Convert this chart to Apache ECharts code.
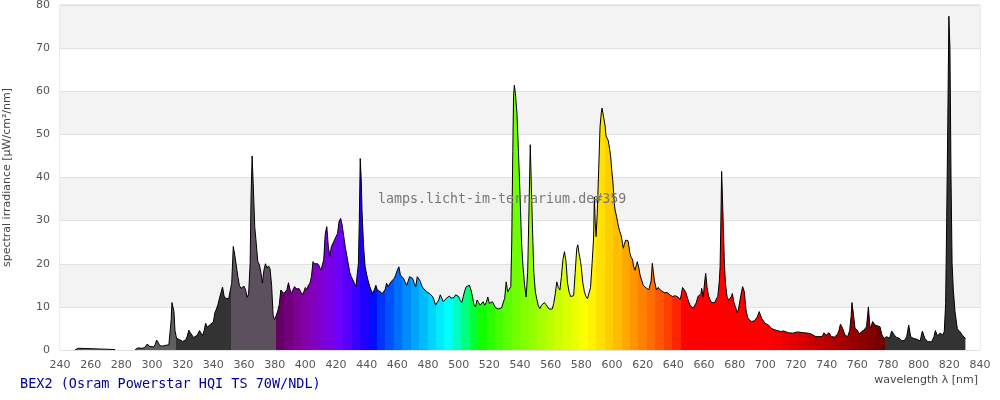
<!DOCTYPE html>
<html>
<head>
<meta charset="utf-8">
<script src="https://cdn.jsdelivr.net/npm/echarts@6/dist/echarts.min.js"></script>
<style>html,body{margin:0;padding:0;background:#fff}#c{width:1000px;height:400px}</style>
</head>
<body>
<div id="c"></div>
<script>
// wavelength [nm]
const wavelengths = [250,251,252,253,276,277,289,290,291,292,293,295,296,297,298,299,301,302,303,304,305,307,309,311,312,312.5,313,313.7,314.3,315,316,317,318,319,320,321,322,323,324,325,326,327,328,329,330,331,332,333,334,335,336,337,338,339,340,341,342,343,344,345,346,347,348,349,350,351,352,353,354,355,356,357,358,359,360,361,362,363,364,364.6,365.3,366,367,368,369,370,371,372,373,374,375,376,377,378,379,380,381,382,383,384,385,386,387,388,389,390,391,392,393,394,395,396,397,398,399,400,401,402,403,404,405,406,407,408,409,410,411,412,413,414,415,416,417,418,419,420,421,422,423,424,425,426,427,428,429,430,431,432,433,434,434.6,435.2,435.8,436.4,437,438,439,440,441,442,443,444,445,446,447,448,449,450,451,452,453,454,455,456,457,458,459,460,461,462,463,464,465,466,467,468,469,470,471,472,473,474,475,476,477,478,479,480,481,482,483,484,485,486,487,488,489,490,491,492,493,494,495,496,497,498,499,500,501,502,503,504,505,506,507,508,509,510,511,512,513,514,515,516,517,518,519,520,521,522,523,524,525,526,527,528,529,530,531,532,533,534,534.6,535.3,535.8,536.3,537,538,539,540,541,542,543,544,545,546,546.7,547.3,548,549,550,551,552,553,554,555,556,557,558,559,560,561,562,563,564,565,566,567,568,569,570,571,572,573,574,575,576,577,577.7,578.5,579.5,580,581,582,583,584,585,586,587,588,588.5,589,589.6,590.4,591.3,592.2,593,593.5,594.2,594.8,595.5,596.1,597,597.6,598.5,599.1,600,600.5,601.5,602,603,604,604.8,606,606.3,607.4,608,609,610,610.5,611.7,612.5,613.5,614,615,616,616.5,617.5,618.3,619.5,620.4,621.5,622.6,624,624.8,625.5,626.3,627,627.6,629,630,631,632,633,634,635,636,637,638,639.6,641,642.2,643,644.3,645,646,647,648,649,650,651,652,653,654,655,656,657,658,658.5,659.5,660.5,661.1,662,663,664,665,666,667,668,669,670,670.5,671,671.5,672,672.6,673.3,674,675,676,677,678,678.5,679.5,680.5,681.7,682.5,683.5,684.5,685.2,686.3,687.4,688.5,689.5,691,693,694.8,696,697.6,699.8,702,704,706,708,710,712,713,715,718,721,722,725,728,730,731,733,737,738.3,739.6,741.5,743,745,747,748,749,750.4,751.9,753.7,755,756,756.5,757.4,758.5,760,761.3,762.8,764.3,766,766.7,767.2,768.3,769,770,771,771.5,773,774.8,776,777.6,779,781,782.4,784,785.7,787.4,789,791,792.2,793.5,794.8,796.5,798.7,801,802.4,804,806,808.5,810,810.9,812.2,814,815.7,816.7,817.6,818.3,819,819.7,820.4,821.1,821.8,822.6,823.7,825.2,827,829,830.5];
// spectral irradiance [µW/cm²/nm]
const irradiance = [0.1,0.1,0.4,0.1,0.1,null,0.1,0.2,0.5,0.8,0.4,0.5,0.9,1.4,0.9,0.6,0.7,1.2,2.3,1.8,1.0,0.9,1.1,1.2,1.5,7,11,11.2,9,4.5,2.7,2.3,2.4,2.2,2.0,2.1,2.3,3.2,4.6,4.0,3.5,2.9,3.0,3.3,3.8,4.5,3.9,3.4,4.5,6.2,5.3,5.6,5.9,6.0,6.5,8.6,9.5,10.5,12.0,12.4,14.6,12.5,12.0,12.3,11.9,12.2,15.5,24.0,22.0,19.5,17.0,15.0,14.3,14.5,14.8,14.0,12.2,13.0,20,35.6,45,38.6,28.6,24.7,20.5,19.8,18,15.5,18.5,20,19,19.5,18.8,15,8,7.0,7.3,9,10.5,13.9,13.5,13.1,12.8,14,15.6,14,13.1,14,14.7,14.2,14.6,14.2,13.9,12.8,13.5,14.5,14,15,15.5,17,20.5,20,19.7,20,19.5,18.5,19.5,21,27,28.6,24,21.7,24,24,25.5,26.3,27,29.8,30.5,29,26.5,24,22,20,18,17,16.6,15.5,14.7,15,20,30,44.4,40,32,24,19.3,17.5,16,14.7,13.8,13.1,14,15,13.9,13.7,13.5,13,12.8,14,15.5,14.7,15,15.9,16.3,16.6,17.5,18.5,19.3,17.4,17,16.6,15.8,15,15.9,17,16.8,16.6,15.5,14.7,17,16.5,15.9,14.8,14.3,14.7,13.5,13.3,13.1,12.8,12.4,11.5,10.4,11,11.6,12.8,12,11.2,11.5,12,12.3,12.5,12,11.6,12.2,12.8,12.6,12.4,11.5,11,12.4,13.8,14.7,15,15,14,12.4,10.5,10,11.6,11,10.4,10.8,11.2,10.4,11,12.3,10.8,10.4,11.2,10.5,9.8,9.4,9.5,9.7,9.8,9.9,12,15.8,13.5,13.1,14.7,24.8,46,58.7,61.4,59.5,55,46,36,25,19,15,12.3,18,35,47.6,39.4,30,18,13.5,11.7,10.2,9.6,10.4,10.6,11,10.5,10,9.5,9.1,9.5,10.8,13,15.8,14.5,13.9,17,21,22.8,20.5,15.5,13.5,12.4,12.2,12.6,18,23.5,24.4,22.4,20.5,19,15.5,13.5,12.4,11.9,11.8,14.5,20,26,35.5,30,26.3,31.7,41.8,51.8,55,56.1,56.3,55.7,52,49.6,49,48.5,46.5,45,41,39.4,34,32.5,30.9,29,27.8,26.5,26.3,23.6,24.5,25.5,25.8,25.3,22.4,21.5,20.9,19.5,18.5,19.8,20.5,19,17.4,16,15,14.6,14.3,14,14,16,20.1,18,16.2,13.9,14.5,14.7,13.8,13.5,13.3,13.1,13.3,13,12.7,12.4,12.6,12.8,12.3,11.7,12.5,14.5,14.5,13.5,12.3,11.2,10.3,9.9,9.7,9.6,11,12.4,12.2,13,14.3,12.2,16,17.8,14.5,12.5,11.6,11,10.6,11,11.8,12.4,16,19.3,30,41.4,36,28.6,20,15.5,12.4,11.5,11.2,12.5,13.1,11,10,8.7,9.5,11.6,13.5,14.7,13.5,9.3,7.5,7,6.6,6.8,7.7,8.9,7.3,6.2,5.8,5,4.7,4.5,4.3,4.4,4.5,4.0,3.9,4.2,4.0,4.0,3.9,3.7,3.5,3.1,3.1,4,3.4,4,3.1,3.0,3.6,4.5,6,5,3.5,3.1,4.5,8,11,8.5,5,4.6,3.7,4.3,4.6,5.4,8,10,5,5.5,6.6,6.2,5.8,5.6,5.4,3.5,2.7,3.1,2.7,4.4,3.5,2.9,2.7,2.1,2.3,3.1,5.8,3.1,2.7,2.5,2.1,4.4,2.7,1.9,1.9,3.1,4.5,3.3,3.9,3.5,4.3,10.8,30.9,52.9,77.4,69.9,39.8,20,13.9,8.9,4.9,4.2,3.2,2.7];
const xTicks = {min: 240, max: 840, step: 20};
const yTicks = {min: 0, max: 80, step: 10};

// wavelength -> display colour (Bruton)
function waveColor(w) {
  let r = 0, g = 0, b = 0;
  if (w < 440) { r = -(w - 440) / 60; b = 1; }
  else if (w < 490) { g = (w - 440) / 50; b = 1; }
  else if (w < 510) { g = 1; b = -(w - 510) / 20; }
  else if (w < 580) { r = (w - 510) / 70; g = 1; }
  else if (w < 645) { r = 1; g = -(w - 645) / 65; }
  else { r = 1; }
  let f = 1;
  if (w < 420) f = 0.3 + 0.7 * (w - 380) / 40;
  else if (w > 700) f = 0.3 + 0.7 * (780 - w) / 80;
  const c = v => v === 0 ? 0 : Math.round(255 * Math.pow(v * f, 0.8));
  return 'rgb(' + c(r) + ',' + c(g) + ',' + c(b) + ')';
}
const pieces = [
  {lt: 315.7, color: '#5f5f5f'},
  {gte: 315.7, lt: 351.3, color: '#333333'},
  {gte: 351.3, lt: 380.7, color: '#5d505e'}
];
for (let s = 380.7; s < 778; s += 5.5) {
  const e = Math.min(s + 5.5, 778);
  pieces.push({gte: s, lt: e, color: waveColor(Math.max(s, 380.5))});
}
pieces.push({gte: 778, color: '#333333'});

const data = wavelengths.map((w, i) => [w, irradiance[i]]);

const chart = echarts.init(document.getElementById('c'), null, {renderer: 'canvas'});
chart.setOption({
  animation: false,
  backgroundColor: '#fff',
  grid: {left: 60, right: 20, top: 5, bottom: 50, show: true, borderColor: '#d9d9d9', borderWidth: 1, backgroundColor: 'transparent', containLabel: false, outerBoundsMode: 'none'},
  visualMap: {type: 'piecewise', show: false, dimension: 0, seriesIndex: 0, pieces: pieces, outOfRange: {color: '#333'}},
  xAxis: {
    type: 'value', min: xTicks.min, max: xTicks.max, interval: xTicks.step,
    axisLine: {show: false}, axisTick: {show: false}, splitLine: {show: false},
    axisLabel: {color: '#555', fontSize: 11, margin: 10, fontFamily: 'DejaVu Sans'}
  },
  yAxis: {
    type: 'value', min: yTicks.min, max: yTicks.max, interval: yTicks.step,
    axisLine: {show: false}, axisTick: {show: false},
    splitLine: {lineStyle: {color: '#e0e0e0', width: 1}},
    splitArea: {show: true, areaStyle: {color: ['#ffffff', '#f3f3f3']}},
    axisLabel: {color: '#555', fontSize: 11, margin: 10, fontFamily: 'DejaVu Sans'},
    name: 'spectral irradiance [µW/cm²/nm]', nameLocation: 'middle', nameGap: 47,
    nameTextStyle: {color: '#444', fontSize: 11, fontFamily: 'DejaVu Sans'}
  },
  graphic: [
    {type: 'text', right: 22, top: 375, style: {text: 'wavelength λ [nm]', fill: '#444', font: '11px "DejaVu Sans"'}},
    {type: 'text', left: 20, top: 377, style: {text: 'BEX2 (Osram Powerstar HQI TS 70W/NDL)', fill: '#000099', font: '13.5px "DejaVu Sans Mono"'}},
    {type: 'text', left: 378, top: 193, z: 100, style: {text: 'lamps.licht-im-terrarium.de#359', fill: '#777', font: '13.3px "DejaVu Sans Mono"'}}
  ],
  series: [{
    type: 'line', data: data, symbol: 'none', showSymbol: false, connectNulls: false,
    lineStyle: {color: '#000', width: 1}, areaStyle: {opacity: 1},
    z: 3
  }]
});
</script>
</body>
</html>
